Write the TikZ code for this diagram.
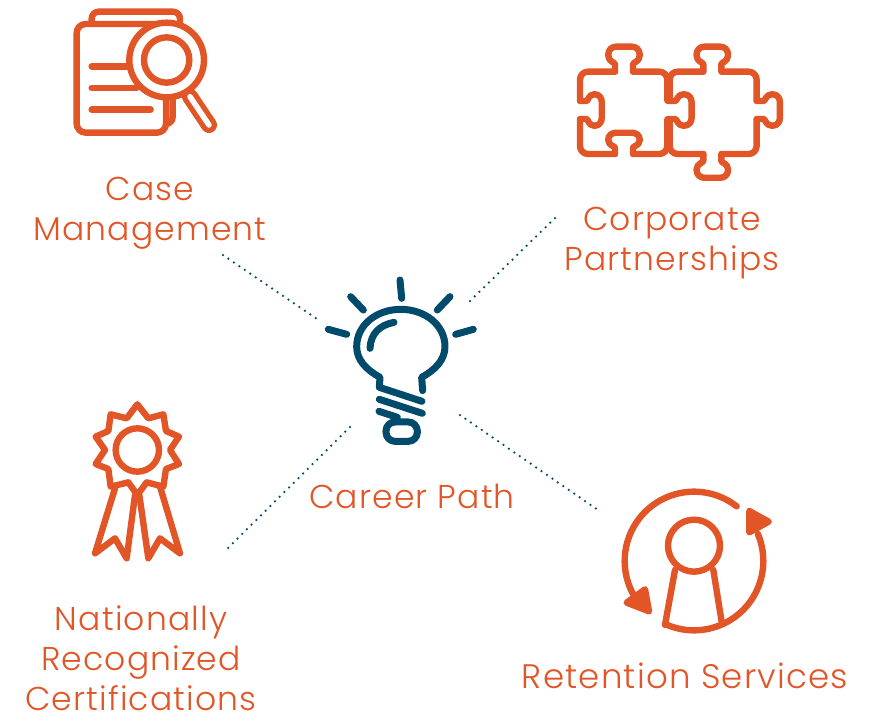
\documentclass[tikz,border=0pt]{standalone}
\usepackage{fontspec}
\setmainfont{Poppins Light}[LetterSpace=3.5]
\definecolor{ora}{HTML}{E15527}
\definecolor{tealb}{HTML}{004B6B}
\tikzset{
  x=1pt,y=-1pt,
  lbl/.style={text=ora,align=center,inner sep=0pt,font=\fontsize{33}{40}\selectfont},
  icon/.style={draw=ora,line width=6.4pt,line join=round,line cap=round},
  bulb/.style={draw=tealb,line width=7pt,line join=round,line cap=round},
  dots/.style={draw=tealb,line width=2.5pt,line cap=round,dash pattern=on 0pt off 6.6pt},
  zoomed/.style={shift={#1},x=0.3333pt,y=-0.3333pt}
}
\newcommand\puztab[4]{\draw[icon,shift={(#1,#2)},rotate=#3,yscale=#4] (-27,0) -- (-27,-22) .. controls (-27,-28) and (-47,-30) .. (-47,-48) -- (-47,-52) .. controls (-47,-66) and (-36,-75) .. (-24,-75) -- (24,-75) .. controls (36,-75) and (47,-66) .. (47,-52) -- (47,-48) .. controls (47,-30) and (27,-28) .. (27,-22) -- (27,0);}
\begin{document}
\begin{tikzpicture}
\useasboundingbox (0,0) rectangle (884,721);
% labels
\node[lbl] (case) at (150,213) {Case\\Management};
\node[lbl] (corp) at (672,243) {Corporate\\Partnerships};
\node[lbl] (career) at (412,496) {Career Path};
\node[lbl,text depth=0pt] (nat) at (141,658) {Nationally\\Recognized\\Certifications};
\node[lbl,font=\fontsize{34}{40}\selectfont] (ret) at (685,676) {Retention Services};
% connector ends
\coordinate (a1) at (223,255); \coordinate (a2) at (317,319);
\coordinate (b1) at (470,301); \coordinate (b2) at (555,218);
\coordinate (c1) at (350,427); \coordinate (c2) at (224,552);
\coordinate (d1) at (460,415); \coordinate (d2) at (598,510);
\draw[dots] (a1) -- (a2);
\draw[dots] (b1) -- (b2);
\draw[dots] (c1) -- (c2);
\draw[dots] (d1) -- (d2);
% case management icon
\begin{scope}[zoomed={(50,0)}]
\draw[icon,rounded corners=7pt] (125,65) -- (125,35) -- (390,35) -- (390,70);
\draw[icon,rounded corners=7pt] (368,290) -- (368,372) -- (345,372);
\draw[icon,fill=white,rounded corners=9pt] (80,72) rectangle (348,398);
\draw[icon] (125,199) -- (240,199);
\draw[icon] (125,264) -- (260,264);
\draw[icon] (125,329) -- (302,329);
\draw[draw=ora,line width=16pt,line cap=round] (420,290) -- (477,375);
\draw[draw=white,line width=5.5pt,line cap=round] (420,290) -- (477,375);
\draw[icon,fill=white] (350,180) circle[radius=112];
\draw[icon] (350,180) circle[radius=68];
\end{scope}
% puzzle icon
\begin{scope}[zoomed={(560,30)}]
\draw[icon,rounded corners=8pt] (165,125) -- (60,125) -- (60,212);
\draw[icon,rounded corners=8pt] (60,268) -- (60,372) -- (165,372);
\draw[icon,rounded corners=8pt] (220,372) -- (322,372) -- (322,268);
\draw[icon,rounded corners=8pt] (220,125) -- (322,125) -- (322,212);
\draw[icon,rounded corners=8pt] (430,125) -- (329,125) -- (329,212);
\draw[icon,rounded corners=8pt] (430,372) -- (329,372) -- (329,268);
\draw[icon,rounded corners=8pt] (485,125) -- (590,125) -- (590,212);
\draw[icon,rounded corners=8pt] (590,268) -- (590,372) -- (485,372);
\puztab{192}{125}{0}{1}
\puztab{192}{372}{0}{0.85}
\puztab{60}{240}{-90}{0.87}
\puztab{325}{240}{-90}{0.93}
\puztab{457}{125}{0}{1}
\puztab{590}{240}{-90}{0.93}
\puztab{457}{372}{180}{0.95}
\end{scope}
% bulb icon
\begin{scope}[zoomed={(310,270)}]
\draw[bulb] (270,30) -- (275,85);
\draw[bulb] (122,80) -- (160,120);
\draw[bulb] (55,178) -- (110,193);
\draw[bulb] (420,80) -- (382,120);
\draw[bulb] (490,178) -- (437,193);
\draw[bulb] (338,362) -- (335,322) .. controls (375,300) and (405,270) .. (405,230) .. controls (405,165) and (345,118) .. (272,118) .. controls (200,118) and (140,165) .. (140,230) .. controls (140,270) and (170,300) .. (210,322) -- (208,352) -- (336,394);
\draw[bulb] (180,235) .. controls (182,190) and (210,165) .. (252,157);
\draw[bulb] (208,388) -- (337,430);
\draw[bulb] (207,424) -- (262,442);
\draw[bulb,rounded corners=9pt] (228,456) rectangle (322,514);
\end{scope}
% certification icon
\begin{scope}[zoomed={(80,395)}]
\draw[icon] (105,280) -- (45,475) -- (105,430) -- (140,490) -- (165,300);
\draw[icon] (178,300) -- (205,490) -- (240,430) -- (300,475) -- (240,275);
\draw[icon,fill=white] (172,28) -- (205,70) -- (250,58) -- (258,108) -- (297,125) -- (270,165) -- (297,207) -- (258,222) -- (250,275) -- (200,262) -- (172,300) -- (145,262) -- (92,275) -- (85,222) -- (47,207) -- (75,165) -- (47,125) -- (85,108) -- (92,58) -- (140,70) -- cycle;
\draw[icon] (172,165) circle[radius=65];
\end{scope}
% retention icon
\begin{scope}[zoomed={(610,480)}]
\coordinate (rc) at (252,243);
\draw[icon] (rc) ++(-52:208) arc[start angle=-52,end angle=-211,radius=208];
\draw[icon] (rc) ++(114:208) arc[start angle=114,end angle=-23,radius=208];
\draw[icon,fill=ora] (50,368) -- (105,328) -- (117,394) -- cycle;
\draw[icon,fill=ora] (418,93) -- (476,125) -- (418,157) -- cycle;
\draw[icon] (195,270) -- (165,435);
\draw[icon] (310,270) -- (335,425);
\draw[icon,fill=white] (252,197) circle[radius=78];
\end{scope}
\end{tikzpicture}
\end{document}
